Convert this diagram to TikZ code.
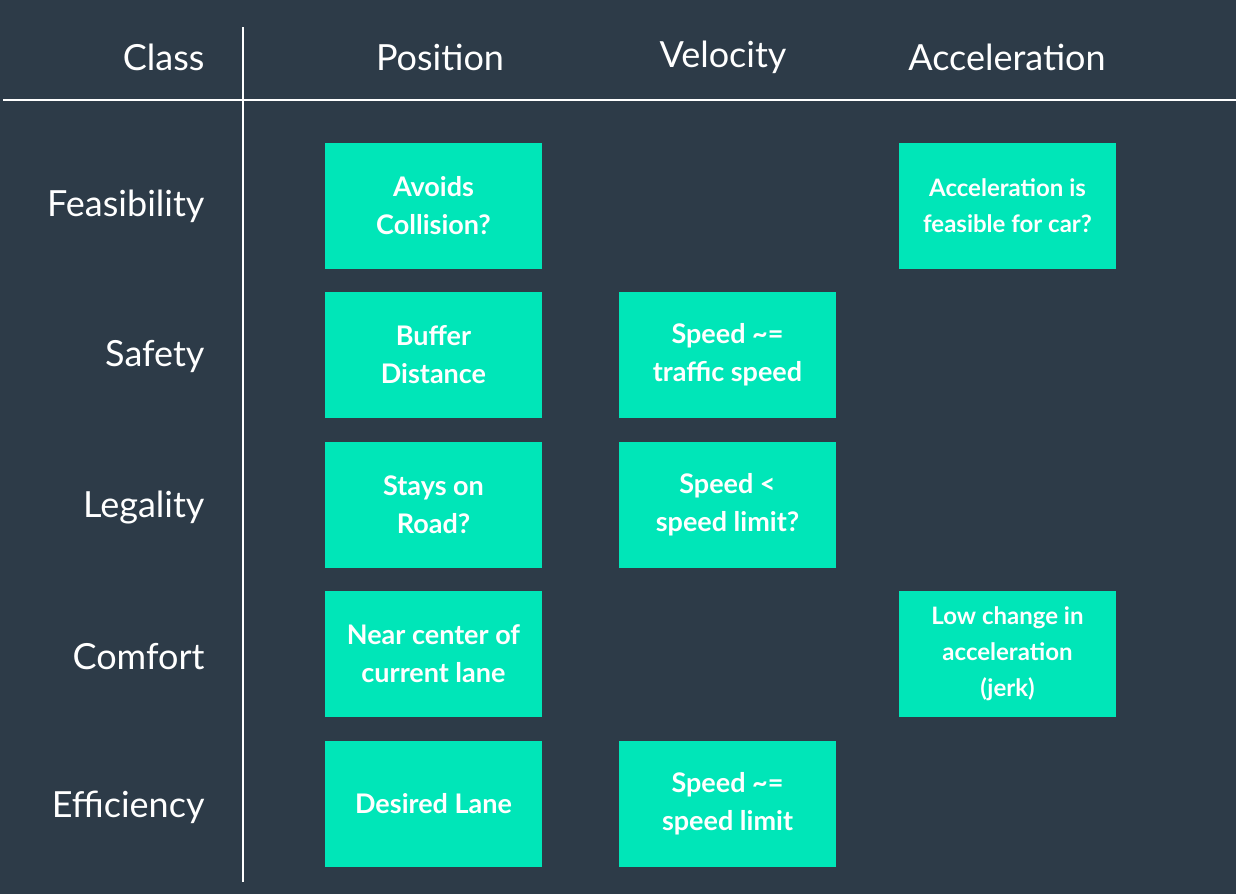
\documentclass[tikz,border=0pt]{standalone}
\usepackage{fontspec}
\setmainfont{Lato}
\definecolor{bg}{HTML}{2D3B48}
\definecolor{box}{HTML}{00E6B8}
\begin{document}
\begin{tikzpicture}[x=1pt,y=-1pt,
  hdr/.style={text=white,font=\fontsize{36}{40}\selectfont},
  row/.style={hdr,anchor=east},
  cell/.style={fill=box,minimum width=217pt,minimum height=126pt,inner sep=0pt,text=white,align=center,font=\bfseries\fontsize{27}{38}\selectfont},
  cellsm/.style={cell,font=\bfseries\fontsize{24}{36}\selectfont},
  rule/.style={white,line width=2pt}]
\fill[bg] (0,0) rectangle (1236,894);
\useasboundingbox (0,0) rectangle (1236,894);
\coordinate (h0) at (3,100); \coordinate (h1) at (1236,100);
\coordinate (v0) at (243,27); \coordinate (v1) at (243,882);
\draw[rule] (h0) -- (h1);
\draw[rule] (v0) -- (v1);
\node[row] (class) at (208,57) {Class};
\node[hdr] (pos) at (440,57) {Position};
\node[hdr] (vel) at (723,57) {Velocity};
\node[hdr] (acc) at (1007,57) {Acceleration};
\node[row] (r1) at (208,206) {Feasibility};
\node[row] (r2) at (208,356) {Safety};
\node[row] (r3) at (208,508) {Legality};
\node[row] (r4) at (208,657) {Comfort};
\node[row] (r5) at (208,807) {Efficiency};
\node[cell] (b11) at (433.5,206) {Avoids\\Collision?};
\node[cellsm] (b13) at (1007.5,206) {Acceleration is\\feasible for car?};
\node[cell] (b21) at (433.5,355) {Buffer\\Distance};
\node[cell] (b22) at (727.5,355) {Speed \textasciitilde=\\traffic speed};
\node[cell] (b31) at (433.5,504.5) {Stays on\\Road?};
\node[cell] (b32) at (727.5,504.5) {Speed <\\speed limit?};
\node[cell] (b41) at (433.5,654) {Near center of\\current lane};
\node[cellsm] (b43) at (1007.5,654) {Low change in\\acceleration\\(jerk)};
\node[cell] (b51) at (433.5,804) {Desired Lane};
\node[cell] (b52) at (727.5,804) {Speed \textasciitilde=\\speed limit};
\end{tikzpicture}
\end{document}
